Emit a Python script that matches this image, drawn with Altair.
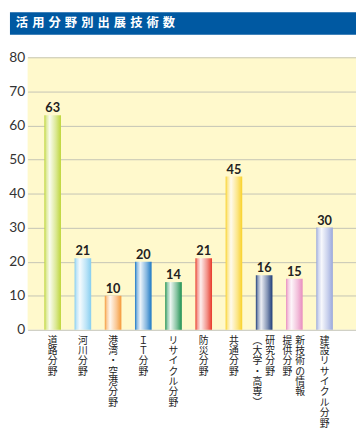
import altair as alt
import pandas as pd

title = "活用分野別出展技術数"
categories = ["道路分野", "河川分野", "港湾・空港分野", "IT分野", "リサイクル分野",
              "防災分野", "共通分野", "研究分野(大学・高専)", "新技術の情報提供分野", "建設リサイクル分野"]
values = [63, 21, 10, 20, 14, 21, 45, 16, 15, 30]
# label columns (vertical text, right column first)
label_cols = [
    ["道路分野"],
    ["河川分野"],
    ["港湾・空港分野"],
    ["ＩＴ分野"],
    ["リサイクル分野"],
    ["防災分野"],
    ["共通分野"],
    ["研究分野", "︵大学・高専︶"],
    ["新技術の情報", "提供分野"],
    ["建設リサイクル分野"],
]
y_ticks = [0, 10, 20, 30, 40, 50, 60, 70, 80]
bar_colors = ["#BED63A", "#86CEF0", "#F59A3A", "#1C78C4", "#1E9050",
              "#E83A2A", "#F9D22A", "#1E3C78", "#E88CBE", "#9AA8DC"]

W, H = 335, 278

df = pd.DataFrame({"cat": categories, "val": values})

rows = []
for c, cols in zip(categories, label_cols):
    if len(cols) == 1:
        rows.append({"cat": c, "txt": "\n".join(cols[0]), "pos": "c"})
    else:
        rows.append({"cat": c, "txt": "\n".join(cols[0]), "pos": "r"})
        rows.append({"cat": c, "txt": "\n".join(cols[1]), "pos": "l"})
ldf = pd.DataFrame(rows)


def mix(hexc, t):
    r, g, b = int(hexc[1:3], 16), int(hexc[3:5], 16), int(hexc[5:7], 16)
    r = round(r + (255 - r) * t)
    g = round(g + (255 - g) * t)
    b = round(b + (255 - b) * t)
    return "#%02x%02x%02x" % (r, g, b)


def grad(c):
    return alt.LinearGradient(
        gradient="linear", x1=0, x2=1, y1=0, y2=0,
        stops=[
            alt.GradientStop(color=c, offset=0),
            alt.GradientStop(color=mix(c, 0.5), offset=0.12),
            alt.GradientStop(color=mix(c, 0.92), offset=0.32),
            alt.GradientStop(color=mix(c, 0.45), offset=0.7),
            alt.GradientStop(color=c, offset=1),
        ],
    )


xscale = alt.Scale(paddingInner=0.45, paddingOuter=0.66, align=0.42)
X = alt.X("cat:N", sort=categories, scale=xscale, axis=None)
Y = alt.Y("val:Q", scale=alt.Scale(domain=[0, 80]),
          axis=alt.Axis(values=y_ticks, grid=True, gridColor="#C4C4B4", gridWidth=1,
                        domain=False, ticks=False, labelFont="Lato", labelFontSize=14,
                        labelColor="#333333", labelPadding=3, title=None,
                        labelOverlap=False, labelFlush=False))

base = alt.Chart(df)
layers = []
for c, col in zip(categories, bar_colors):
    layers.append(
        base.transform_filter(alt.datum.cat == c)
        .mark_bar(color=grad(col))
        .encode(x=X, y=Y)
    )

vals = base.mark_text(font="Lato", fontWeight="bold", fontSize=13, color="#222222",
                      baseline="alphabetic", dy=-3).encode(x=X, y=Y, text="val:Q")

lbase = alt.Chart(ldf)
labels = []
for pos, dx in [("c", 0), ("r", 6), ("l", -7)]:
    labels.append(
        lbase.transform_filter(alt.datum.pos == pos)
        .mark_text(font="Noto Sans CJK JP", fontSize=10, lineHeight=10.6, lineBreak="\n",
                   baseline="top", align="center", color="#222222", dx=dx)
        .encode(x=X, y=alt.value(H + 6), text="txt:N")
    )

hdr_df = pd.DataFrame({"t": ["\u2004".join(title)]})
hdr_rect = alt.Chart(hdr_df).mark_rect(color="#0059A2").encode(
    x=alt.value(-18), x2=alt.value(W), y=alt.value(-46), y2=alt.value(-23))
hdr_text = alt.Chart(hdr_df).mark_text(
    font="Noto Sans CJK JP", fontWeight="bold", fontSize=12.5, color="white",
    align="left", baseline="middle").encode(x=alt.value(-12), y=alt.value(-34.5), text="t:N")

chart = alt.layer(*layers, vals, *labels, hdr_rect, hdr_text).properties(
    width=W, height=H, padding=0
).configure_view(fill="#FFF9CC", stroke=None)

chart.save("out.html", embed_options={"renderer": "svg", "actions": False})
